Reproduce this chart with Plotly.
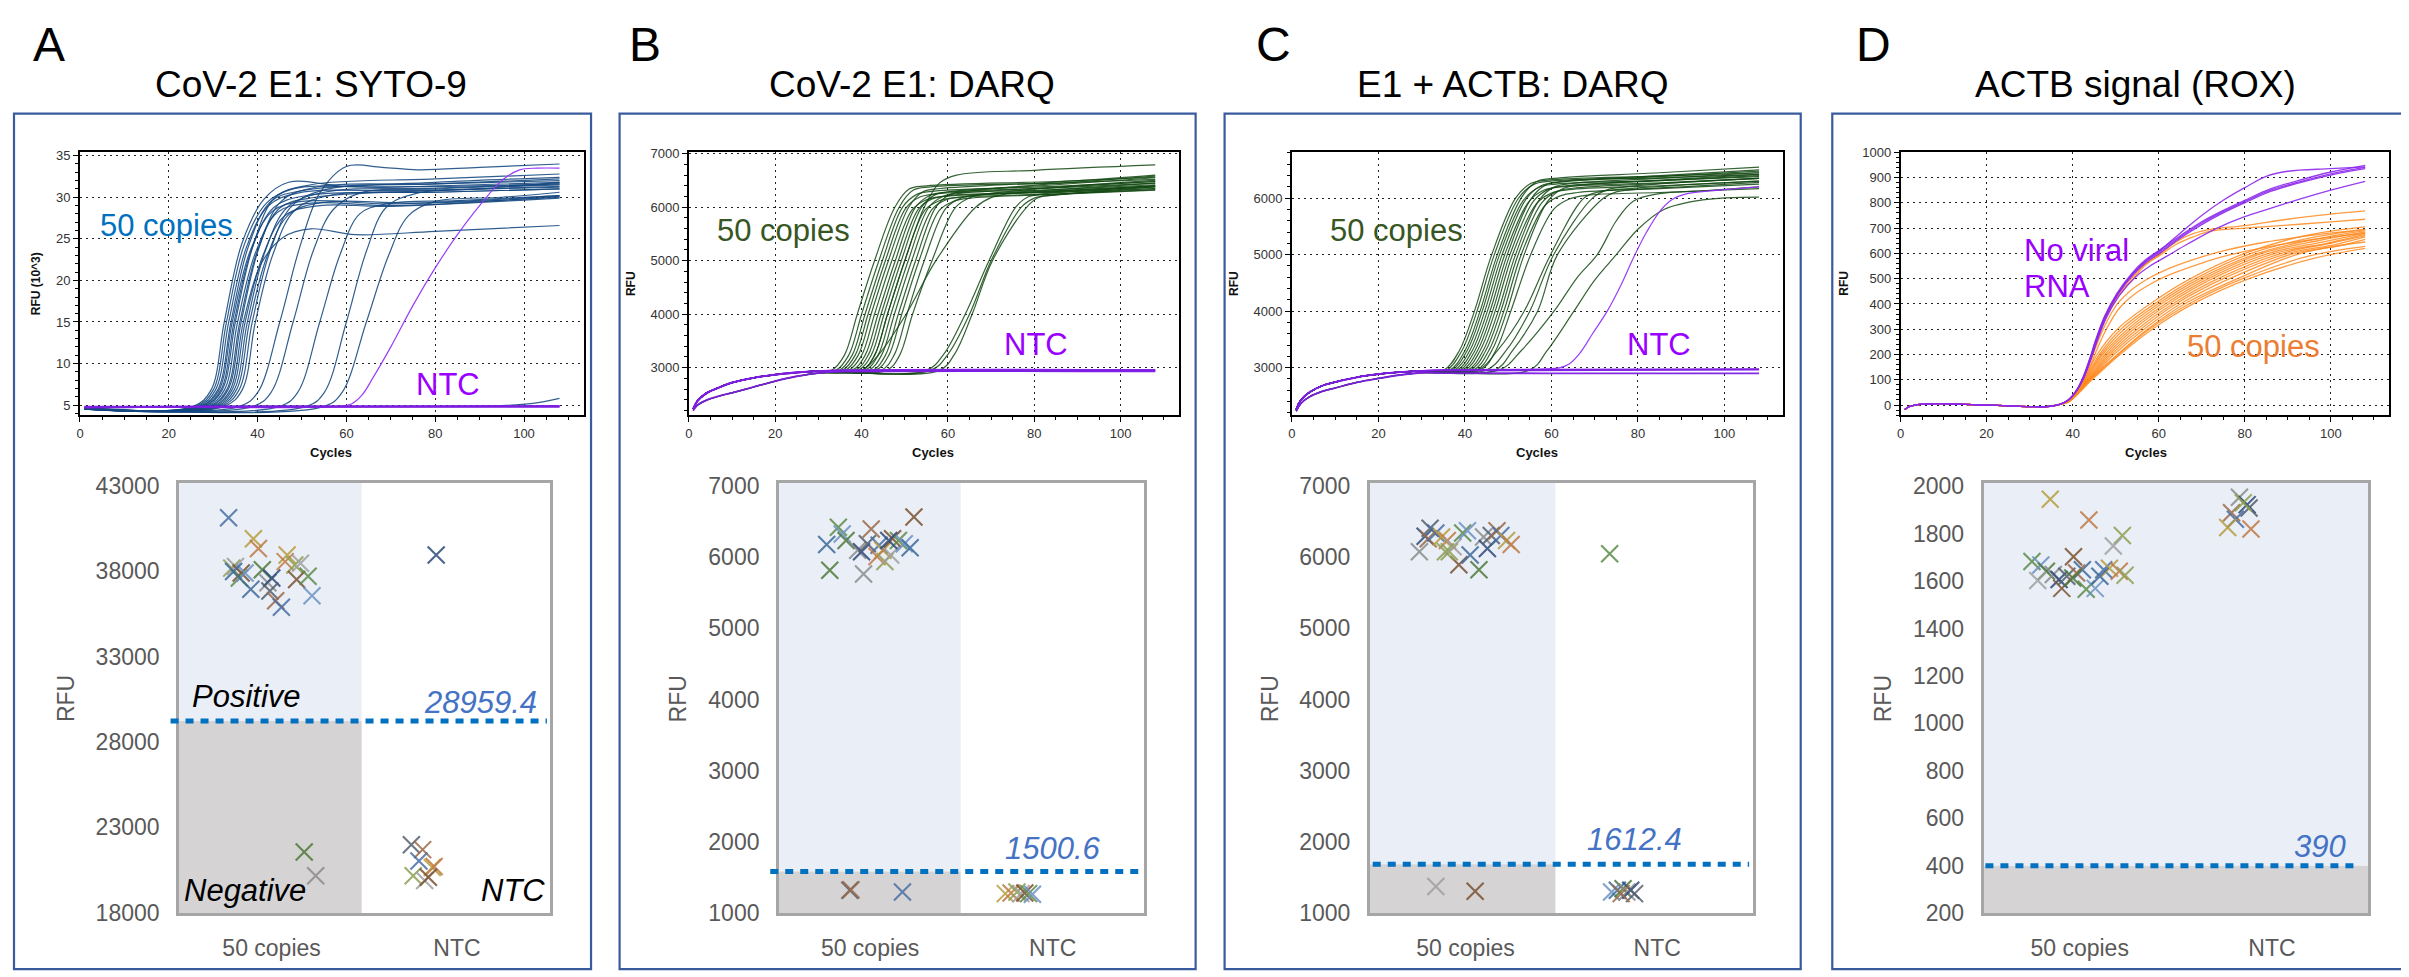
import plotly.graph_objects as go

W, H = 2409, 977
FONT = "Liberation Sans, Arial, Helvetica, sans-serif"

# ------------------------------------------------------------------ data
CYCLE_TICKS = [0, 20, 40, 60, 80, 100]
CATEGORIES = ["50 copies", "NTC"]
LETTERS = ["A", "B", "C", "D"]
TITLES = ["CoV-2 E1: SYTO-9", "CoV-2 E1: DARQ", "E1 + ACTB: DARQ", "ACTB signal (ROX)"]

# Panel A amplification curves (cycle, RFU x10^3), knots
A_POS = [
    [(1,4.55),(25.5,4.85),(29.5,6.8),(32.5,15),(36.5,24.5),(41.5,29.8),(47,31.8),(60,31.3),(80,31.3),(108,31.6)],
    [(1,4.55),(26,4.85),(30,6.8),(33,15),(37,24.3),(42,29.3),(48,31.0),(70,31.2),(108,31.8)],
    [(1,4.6),(26.5,4.85),(30.5,6.8),(33.5,15),(37.5,24),(42.5,29),(49,30.5),(75,30.8),(108,31.2)],
    [(1,4.6),(27,4.85),(31,6.8),(34,15),(38,24.2),(43,29.5),(50,30.8),(80,31.8),(108,32.4)],
    [(1,4.5),(27.3,4.85),(31.3,6.8),(34.3,15),(38.3,23.5),(43.3,28.3),(50,29.5),(70,29.2),(108,30.0)],
    [(1,4.6),(27.7,4.85),(31.7,6.8),(34.7,15),(38.7,23.8),(43.7,28.8),(51,30.2),(80,30.6),(108,31.0)],
    [(1,4.55),(28,4.85),(32,6.8),(35,15),(39,24.2),(44,30),(52,31.5),(80,32.2),(108,32.8)],
    [(1,4.5),(28.5,4.85),(32.5,6.8),(35.5,15),(39.5,23.3),(44.5,28.2),(52,29.3),(70,29.0),(108,29.9)],
    [(1,4.6),(29,4.85),(33,6.8),(36,15),(40,23.6),(45,28.7),(53,30.0),(80,30.8),(108,31.3)],
    [(1,4.6),(29.3,4.85),(33.3,6.8),(36.3,15),(40.3,23.9),(45.3,29.5),(53,31.2),(80,31.6),(108,32.0)],
    [(1,4.55),(29.8,4.85),(33.8,6.8),(36.8,15),(40.8,22.0),(45.8,25.2),(52,26.2),(62,25.5),(80,25.9),(108,26.6)],
    [(1,4.5),(30.2,4.85),(34.2,6.8),(37.2,15),(41.2,23),(46.2,27.8),(54,29.0),(70,28.9),(108,30.1)],
    [(1,4.6),(30.7,4.85),(34.7,6.8),(37.7,15),(41.7,23.5),(46.7,28.8),(55,30.6),(80,31.1),(108,31.6)],
    [(1,4.5),(31.2,4.85),(35.2,6.8),(38.2,15),(42.2,23),(47.2,28),(55,29.4),(75,29.3),(108,30.2)],
    [(1,4.6),(31.8,4.85),(35.8,6.8),(38.8,15),(42.8,23.5),(47.8,29),(56,31.0),(80,31.6),(108,32.2)],
    [(1,4.6),(32.5,4.85),(36.5,6.8),(39.5,15),(43.5,23.2),(48.5,28.5),(57,30.3),(80,30.6),(108,31.0)],
    [(1,4.6),(36,4.85),(40,6.5),(45,15),(49.5,24),(54,30.5),(60,33.7),(68,33.6),(76,33.3),(90,33.6),(108,34.0)],
    [(1,4.6),(39,4.85),(43,6.5),(48,15),(52.5,23.5),(57,28.5),(63,30.5),(80,31),(108,31.5)],
    [(1,4.6),(45,4.85),(49,6.5),(54,15),(58.5,23),(63,28),(69,29.2),(85,29.6),(108,30.2)],
    [(1,4.6),(51,4.85),(55,6.5),(60,15),(64.5,23.5),(69,28.8),(76,30.5),(90,31),(108,31.8)],
    [(1,4.6),(55,4.85),(59,6.5),(64.5,15),(69.5,23),(74,27.8),(80,29.5),(95,30),(108,30.6)],
    [(1,4.6),(30,4.85),(95,4.95),(102,5.2),(108,5.8)],
]
A_NTC = [
    [(1,4.8),(58,4.85),(61,5.1),(63.5,6.2),(66,8.3),(70,12),(75,17),(80,21.5),(85,25.5),(90,29),(95,32),(99,33.3),(103,33.5),(108,33.5)],
    [(1,4.7),(20,4.8),(108,4.85)],
    [(1,4.75),(108,4.9)],
    [(1,4.8),(108,4.8)],
]

# Panel B (cycle, RFU)
B_BASE_HI = [(1,2230),(2,2380),(4,2520),(7,2630),(10,2720),(15,2810),(20,2870),(25,2910),(30,2935)]
B_BASE_LO = [(1,2200),(2,2300),(4,2390),(7,2470),(10,2530),(15,2640),(20,2750),(25,2840),(30,2900)]
B_POS = [
    [(33,2950),(36,3230),(39,4000),(43,5000),(47.7,6000),(51,6340),(55,6400),(85,6480),(108,6560)],
    [(34,2950),(37,3230),(40,4000),(44,5000),(48.7,6000),(52,6320),(56,6380),(85,6450),(108,6520)],
    [(34.8,2950),(37.8,3230),(40.8,4000),(44.8,5000),(49.5,6000),(52.8,6240),(56.8,6300),(85,6390),(108,6480)],
    [(35.5,2950),(38.5,3230),(41.5,4000),(45.5,5000),(50.2,5980),(53.5,6190),(57.5,6250),(85,6330),(108,6420)],
    [(36.2,2950),(39.2,3230),(42.2,4000),(46.2,5000),(50.9,6000),(54.2,6290),(58.2,6350),(85,6470),(108,6600)],
    [(37,2950),(40,3230),(43,4000),(47,5000),(51.7,5950),(55,6140),(59,6200),(85,6290),(108,6380)],
    [(37.8,2950),(40.8,3230),(43.8,4000),(47.8,5000),(52.5,6000),(55.8,6220),(59.8,6280),(85,6360),(108,6450)],
    [(38.5,2950),(41.5,3230),(44.5,4000),(48.5,5000),(53.2,5970),(56.5,6160),(60.5,6220),(85,6280),(108,6350)],
    [(39.2,2950),(42.2,3230),(45.2,4000),(49.2,5000),(53.9,6000),(57.2,6240),(61.2,6300),(85,6420),(108,6550)],
    [(40,2950),(43,3230),(46,4000),(50,5000),(54.7,5950),(58,6120),(62,6180),(85,6250),(108,6330)],
    [(40.8,2950),(43.8,3230),(46.8,4000),(50.8,5000),(55.5,5990),(58.8,6200),(62.8,6260),(85,6370),(108,6480)],
    [(41.6,2950),(44.6,3230),(47.6,4000),(51.6,5000),(56.3,5960),(59.6,6140),(63.6,6200),(85,6300),(108,6400)],
    [(42.5,2950),(45.5,3230),(48.5,4000),(52.5,5000),(57.2,6000),(60.5,6240),(64.5,6300),(85,6440),(108,6580)],
    [(43.3,2950),(46.3,3230),(49.3,4000),(53.3,5000),(58,5940),(61.3,6110),(65.3,6170),(85,6240),(108,6320)],
    [(44.5,2950),(47.5,3230),(50.5,4000),(54.5,5000),(59.5,5980),(63,6170),(67,6230),(85,6330),(108,6450)],
    [(45.8,2950),(48.8,3230),(51.8,4000),(56.3,5000),(61.8,6000),(65.7,6200),(69,6250),(85,6370),(108,6500)],
    [(40,2950),(43,3230),(46,4000),(50,5000),(54.5,6000),(58,6450),(62,6600),(80,6690),(108,6790)],
    [(40,2950),(44,3250),(50.3,4000),(57.2,5000),(66.4,6000),(70,6180),(74,6250),(90,6330),(108,6400)],
    [(55,2950),(59,3250),(64,4000),(69.5,5000),(75.7,6000),(78.5,6190),(82,6250),(95,6320),(108,6400)],
    [(56,2950),(60,3250),(65,4000),(70,5000),(77,6000),(80,6170),(84,6220),(95,6290),(108,6350)],
    [(58,2950),(61.5,3250),(65.6,4000),(70.3,5000),(78,5980),(81,6180),(85,6230),(95,6300),(108,6380)],
]
B_POS_LOW_BASE = [5, 13, 17]
B_NTC = [
    [(36,2945),(108,2950)],
    [(36,2935),(108,2940)],
    [(36,2955),(108,2960)],
    [(36,2925),(108,2930)],
]

# Panel C (cycle, RFU)
C_BASE_HI = [(1,2260),(2,2420),(4,2560),(7,2680),(10,2745),(15,2830),(20,2885),(25,2920),(30,2945)]
C_BASE_LO = [(1,2230),(2,2360),(4,2480),(7,2580),(10,2640),(15,2740),(20,2810),(25,2870),(30,2910)]
C_POS = [
    [(35.2,2960),(38.7,3300),(42.2,4000),(46.2,5000),(51.7,6000),(55.2,6260),(59.2,6320),(85,6390),(108,6450)],
    [(35.8,2960),(39.3,3300),(42.8,4000),(46.8,5000),(52.3,5990),(55.8,6240),(59.8,6300),(85,6360),(108,6420)],
    [(36.5,2960),(40,3300),(43.5,4000),(47.5,5000),(53,6000),(56.5,6290),(60.5,6350),(85,6450),(108,6550)],
    [(37,2960),(40.5,3300),(44,4000),(48,5000),(53.5,5960),(57,6190),(61,6250),(85,6310),(108,6380)],
    [(37.6,2960),(41.1,3300),(44.6,4000),(48.6,5000),(54.1,5980),(57.6,6220),(61.6,6280),(85,6380),(108,6480)],
    [(38.2,2960),(41.7,3300),(45.2,4000),(49.2,5000),(54.7,5930),(58.2,6140),(62.2,6200),(85,6270),(108,6350)],
    [(38.8,2960),(42.3,3300),(45.8,4000),(49.8,5000),(55.3,5990),(58.8,6240),(62.8,6300),(85,6400),(108,6500)],
    [(39.4,2960),(42.9,3300),(46.4,4000),(50.4,5000),(55.9,5950),(59.4,6160),(63.4,6220),(85,6310),(108,6400)],
    [(40,2960),(43.5,3300),(47,4000),(51,5000),(56.5,5900),(60,6090),(64,6150),(85,6220),(108,6300)],
    [(40.7,2960),(44.2,3300),(47.7,4000),(51.7,5000),(57.2,5970),(60.7,6200),(64.7,6260),(85,6350),(108,6450)],
    [(41.3,2960),(44.8,3300),(48.3,4000),(52.3,5000),(57.8,5920),(61.3,6120),(65.3,6180),(85,6260),(108,6350)],
    [(42,2960),(45.5,3300),(49,4000),(53,5000),(58.5,5870),(62,6040),(66,6100),(85,6170),(108,6250)],
    [(42.7,2960),(46.2,3300),(49.7,4000),(53.7,5000),(59.2,5950),(62.7,6170),(66.7,6230),(85,6320),(108,6420)],
    [(43.6,2960),(47.1,3300),(50.6,4000),(55.2,5000),(60.5,5800),(64,5980),(68,6050),(85,6100),(108,6170)],
    [(43,2960),(47.5,3300),(53.7,4000),(59.8,5000),(67.5,6000),(71,6110),(75,6150),(90,6230),(108,6300)],
    [(45,2960),(49.5,3300),(55,4000),(60.5,5000),(69.5,6000),(73,6150),(77,6200),(90,6280),(108,6350)],
    [(47,2960),(51,3300),(56.8,4000),(61.4,5000),(72,6000),(75,6110),(79,6150),(92,6210),(108,6280)],
    [(48,2960),(53,3300),(60.6,4000),(66,4600),(70.6,5000),(75,5600),(79,5950),(85,6080),(95,6130),(108,6200)],
    [(55,2960),(59,3300),(65.2,4000),(70,4550),(75,5000),(80,5450),(86,5800),(95,5970),(108,6020)],
]
C_POS_LOW_BASE = [3, 11, 16]
C_NTC = [
    [(58,2975),(62,3000),(64,3060),(66.5,3250),(69.5,3600),(72.9,4000),(76,4450),(79,4950),(82,5400),(85.2,5780),(88,5980),(91.4,6080),(100,6150),(108,6200)],
    [(36,2960),(108,2975)],
    [(36,2950),(108,2965)],
    [(36,2905),(70,2900),(108,2900)],
]
C_NTC_LOW_BASE = [3]

# Panel D (cycle, RFU)
D_BASE = [(1,-18),(2,-6),(4,2),(7,5),(11,5),(15,3),(20,0),(25,-3),(30,-6),(34,-6),(37,3)]
D_NOVIRAL = [
    [(39,20),(41,60),(42.5,110),(44,180),(45.5,260),(47.5,350),(50.4,440),(54,520),(57,570),(60.5,610),(65,665),(70,720),(75,765),(80,805),(86,850),(92,880),(100,915),(108,940)],
    [(39,19),(41,58),(42.6,110),(44.1,180),(45.7,260),(47.7,350),(50.6,440),(54.2,518),(57.2,566),(60.7,606),(65,660),(70,714),(75,760),(80,800),(86,845),(92,876),(100,910),(108,935)],
    [(39,21),(41,62),(42.4,110),(43.9,180),(45.4,260),(47.4,350),(50.3,442),(53.8,522),(56.8,573),(60.3,614),(65,670),(70,725),(75,770),(80,810),(86,855),(92,886),(100,922),(108,948)],
    [(39,20),(41,60),(42.5,110),(44,180),(45.5,260),(47.5,350),(50.4,440),(54,520),(57,570),(60.5,615),(65,680),(70,750),(75,810),(80,860),(85,905),(90,925),(100,935),(108,942)],
    [(39,20),(41,58),(42.6,108),(44.2,178),(45.8,258),(47.8,345),(50.8,432),(54.5,505),(58,550),(62,590),(67,640),(73.6,700),(80,745),(90,800),(100,850),(108,885)],
]
D_COPIES = [
    [(39,19),(41,58),(42.6,108),(44.1,178),(45.6,258),(47.6,345),(50.5,435),(54.2,512),(57,560),(60.5,600),(64,645),(68,678),(72,695),(80,710),(90,735),(100,755),(108,768)],
    [(39,19),(41,57),(42.6,107),(44.1,176),(45.7,255),(47.7,342),(50.6,430),(54.3,505),(57,555),(60.5,595),(64,635),(68,665),(72,688),(80,700),(90,712),(100,725),(108,735)],
    [(39,18),(41,55),(42.5,100),(44,165),(45.5,235),(47.5,315),(50.4,400),(54,460),(57,495),(61,530),(68,575),(75,610),(85,645),(95,670),(108,695)],
    [(39,17),(41,52),(42.6,96),(44.2,158),(45.8,226),(47.9,302),(50.8,382),(54.5,440),(58,478),(62,512),(69,556),(76,592),(86,628),(96,655),(108,680)],
    [(39,16),(42.6,100),(45.7,200),(50.4,300),(58,400),(67.4,500),(80,600),(94,670),(108,705)],
    [(39,16),(42.8,100),(46.2,200),(51.2,300),(59,400),(68.5,500),(81.5,600),(95,660),(108,695)],
    [(39,15),(43.0,100),(46.6,200),(52,300),(59.8,400),(69.5,500),(83,600),(96,655),(108,690)],
    [(39,15),(43.1,100),(47,200),(52.8,300),(60.6,400),(70.5,500),(84,600),(97,650),(108,685)],
    [(39,15),(43.3,100),(47.5,200),(53.5,300),(61.5,400),(71.5,500),(85.5,600),(98,645),(108,680)],
    [(39,14),(43.5,100),(48,200),(54.2,300),(62.3,400),(72.5,500),(87,600),(99,640),(108,675)],
    [(39,14),(43.6,100),(48.5,200),(55,300),(63.2,400),(73.8,500),(88.5,600),(100,640),(108,670)],
    [(39,13),(43.8,100),(49,200),(55.8,300),(64,400),(75,500),(90,600),(101,635),(108,665)],
    [(39,13),(43.9,100),(49.6,200),(56.6,300),(65,400),(76.5,500),(91.5,600),(102,630),(108,655)],
    [(39,12),(44,100),(50.4,200),(57.4,300),(66,400),(78.3,500),(93,600),(108,645)],
    [(39,12),(44.2,100),(50.6,200),(57.8,300),(67,400),(79.5,500),(95,590),(108,628)],
    [(39,11),(44.5,100),(51,200),(58.5,300),(68,400),(81,500),(96,580),(108,620)],
]

# End-point scatter: (horizontal jitter within the category, RFU)
A_COPIES = [(-0.232,41146),(-0.098,39904),(-0.071,39331),(-0.215,38187),(-0.195,38282),(-0.164,37900),
            (-0.174,37614),(-0.143,37900),(-0.112,36946),(-0.05,38091),(-0.02,37328),(0.001,37614),
            (-0.009,36851),(0.022,36278),(0.053,35897),(0.084,38950),(0.073,38568),(0.125,38377),
            (0.156,38473),(0.135,37519),(0.197,37710),(0.218,36565),(-0.205,37996),(0.176,21549),(0.238,20156)]
A_NTCPTS = [(-0.112,38950),(-0.246,21969),(-0.185,21683),(-0.205,21015),(-0.133,20633),(-0.123,20700),
            (-0.236,20156),(-0.174,19870),(-0.154,20061)]
B_COPIES = [(0.240,6565),(-0.174,6419),(-0.153,6327),(-0.238,6177),(-0.132,6236),(-0.068,6099),(-0.047,6076),
            (-0.015,6190),(0.006,6396),(0.049,6168),(0.070,6099),(0.038,6008),(0.081,5939),(0.113,6031),
            (0.123,6259),(0.155,6236),(0.187,6190),(0.219,6131),(-0.221,5815),(-0.036,5765),(0.102,6236),
            (-0.111,1320),(-0.105,1330),(0.177,1297)]
B_NTCPTS = [(-0.26,1274),(-0.228,1283),(-0.196,1297),(-0.174,1274),(-0.153,1283),(-0.132,1274),(-0.111,1265)]
C_COPIES = [(-0.241,6076),(-0.211,6295),(-0.185,6405),(-0.195,6259),(-0.155,6341),(-0.125,6282),(-0.095,6236),
            (-0.085,6076),(-0.065,6145),(-0.035,5893),(-0.015,6341),(0.010,6373),(0.024,6031),(0.070,5825),
            (0.094,6282),(0.114,6122),(0.134,6305),(0.164,6373),(0.184,6305),(0.214,6236),(0.238,6177),
            (-0.105,6076),(-0.155,1375),(0.05,1306)]
C_NTCPTS = [(-0.248,6049),(-0.238,1297),(-0.208,1320),(-0.178,1343),(-0.158,1297),(-0.138,1320),
            (-0.118,1274),(-0.188,1274)]
D_COPIES_PTS = [(-0.153,1945),(0.048,1857),(0.222,1792),(0.175,1748),(-0.032,1702),(-0.248,1682),(-0.202,1668),
                (0.014,1647),(-0.173,1641),(-0.137,1627),(-0.107,1606),(-0.067,1620),(-0.016,1634),(0.125,1647),
                (0.155,1654),(0.206,1641),(0.236,1624),(-0.218,1602),(-0.093,1569),(0.034,1565),(0.081,1569),
                (0.105,1620),(-0.036,1613)]
D_NTCPTS = [(-0.169,1953),(-0.129,1922),(-0.119,1908),(-0.210,1888),(-0.190,1860),(-0.230,1826),
            (-0.109,1819),(-0.149,1930)]

THRESH_LINE = [29220, 1585, 1686, 400]
THRESH_TEXT = ["28959.4", "1500.6", "1612.4", "390"]

TOP_YRANGE = [[3.76, 35.47], [2108, 7036], [2155, 6821], [-41, 1002]]
TOP_YTICKS = [[5, 10, 15, 20, 25, 30, 35], [3000, 4000, 5000, 6000, 7000],
              [3000, 4000, 5000, 6000], [0, 100, 200, 300, 400, 500, 600, 700, 800, 900, 1000]]
TOP_YMINOR = [1, 200, 200, 20]
TOP_YTITLE = ["RFU (10^3)", "RFU", "RFU", "RFU"]
BOT_YRANGE = [[17943, 43190], [996, 7045], [996, 7045], [199, 2014]]
BOT_YTICKS = [[18000, 23000, 28000, 33000, 38000, 43000],
              [1000, 2000, 3000, 4000, 5000, 6000, 7000],
              [1000, 2000, 3000, 4000, 5000, 6000, 7000],
              [200, 400, 600, 800, 1000, 1200, 1400, 1600, 1800, 2000]]

# ------------------------------------------------------------------ layout geometry (pixels)
TOP_X = [(68.1, 572.9), (678, 1168.9), (1282, 1773.8), (1891.7, 2380.8)]
TOP_Y = (137, 407)
BOT_X = [(167.2, 538.5), (768.1, 1133.9), (1360, 1743.9), (1974.8, 2360)]
BOT_Y = (476, 917)
BOXES = [(2, 580), (608.6, 1185.6), (1214.6, 1791.7), (1823.3, 2400)]
LETTER_X = [19, 615.6, 1244, 1844.7]
TITLE_X = [299.5, 901.5, 1503.8, 2127]
TOP_YLABEL_X = [23.7, 619.5, 1223.4, 1834.2]
CYCLES_X = [319.6, 923, 1527.6, 2137.9]
BOT_YLABEL_X = [53.6, 666.9, 1259.8, 1873.8]
SHADE_SPLIT = [0.486, 0.496, 0.469, 1.5]
THRESH_X = [(158.8, 535.8), (759.5, 1135), (1363, 1740), (1976.7, 2351.5)]


def px(x):
    return x / W


def py(y):
    return 1 - y / H


fig = go.Figure()


def ax(i):
    return ("x" if i == 1 else f"x{i}"), ("y" if i == 1 else f"y{i}")


def add_curve(knots, i, color, width=1.2):
    xa, ya = ax(i)
    fig.add_trace(go.Scatter(
        x=[k[0] for k in knots], y=[k[1] for k in knots], mode="lines",
        line=dict(color=color, width=width, shape="spline", smoothing=1.0),
        xaxis=xa, yaxis=ya, showlegend=False, hoverinfo="skip"))


BLUE = "rgba(20,72,128,0.88)"
GREEN = "rgba(18,72,18,0.85)"
NTC_PURPLE = "rgba(150,50,250,0.95)"
FLAT_PURPLE = "rgba(125,30,225,0.95)"
D_PURPLE = "rgba(140,40,235,0.90)"
D_ORANGE = "rgba(255,137,30,0.85)"

# Panel A
for c in A_POS:
    add_curve(c, 1, BLUE, 1.2)
add_curve(A_NTC[0], 1, NTC_PURPLE, 1.2)
for c in A_NTC[1:]:
    add_curve(c, 1, FLAT_PURPLE, 1.8)

# Panel B
for k, c in enumerate(B_POS):
    base = B_BASE_LO if k in B_POS_LOW_BASE else B_BASE_HI
    add_curve(base + c, 3, GREEN, 1.2)
for k, c in enumerate(B_NTC):
    base = B_BASE_LO if k == 3 else B_BASE_HI
    add_curve(base + c, 3, FLAT_PURPLE, 1.8)

# Panel C
for k, c in enumerate(C_POS):
    base = C_BASE_LO if k in C_POS_LOW_BASE else C_BASE_HI
    add_curve(base + c, 5, GREEN, 1.2)
for k, c in enumerate(C_NTC):
    base = C_BASE_LO if k in C_NTC_LOW_BASE else C_BASE_HI
    add_curve(base + c, 5, NTC_PURPLE if k == 0 else FLAT_PURPLE, 1.2 if k == 0 else 1.8)

# Panel D
for c in D_COPIES:
    add_curve(D_BASE + c, 7, D_ORANGE, 1.3)
for c in D_NOVIRAL:
    add_curve(D_BASE + c, 7, D_PURPLE, 1.3)

# End-point scatters
PAL = ["#4A6FA5", "#7A5232", "#8C8C8C", "#B89E3E", "#5E8C4A", "#2E4A7A", "#C07A45", "#6D93C4",
       "#55606E", "#8FA054", "#3E6A9A", "#9C6B4A", "#A0A0A0", "#4F7A3A"]
SCAT = [(A_COPIES, A_NTCPTS), (B_COPIES, B_NTCPTS), (C_COPIES, C_NTCPTS), (D_COPIES_PTS, D_NTCPTS)]
for p, (cop, ntc) in enumerate(SCAT):
    xs = [0 + j for j, v in cop] + [1 + j for j, v in ntc]
    ys = [v for j, v in cop] + [v for j, v in ntc]
    cols = [PAL[(n * 3 + p) % len(PAL)] for n in range(len(xs))]
    xa, ya = ax(2 * p + 2)
    fig.add_trace(go.Scatter(
        x=xs, y=ys, mode="markers", xaxis=xa, yaxis=ya, showlegend=False, hoverinfo="skip",
        marker=dict(symbol="x-thin", size=17, opacity=0.85, color=cols, line=dict(width=2.1, color=cols))))

layout = dict(
    width=W, height=H, margin=dict(l=0, r=0, t=0, b=0),
    paper_bgcolor="white", plot_bgcolor="white",
    font=dict(family=FONT, color="#000"),
    showlegend=False,
)
shapes = []
annotations = []

for p in range(4):
    ti, bi = 2 * p + 1, 2 * p + 2
    txa = "xaxis" if ti == 1 else f"xaxis{ti}"
    tya = "yaxis" if ti == 1 else f"yaxis{ti}"
    layout[txa] = dict(
        domain=[px(TOP_X[p][0]), px(TOP_X[p][1])], anchor=ax(ti)[1], range=[0, 113.5],
        tickvals=CYCLE_TICKS, ticks="outside", ticklen=5, tickwidth=1.2, tickcolor="#000",
        minor=dict(dtick=5, tick0=0, ticks="outside", ticklen=3, tickcolor="#000", showgrid=False),
        showgrid=True, gridcolor="#222", griddash="2px,4px", gridwidth=1.2,
        showline=True, linecolor="#000", linewidth=1.6, mirror=True, zeroline=False,
        tickfont=dict(size=13, color="#333", family=FONT))
    layout[tya] = dict(
        domain=[py(TOP_Y[1]), py(TOP_Y[0])], anchor=ax(ti)[0], range=TOP_YRANGE[p],
        tickvals=TOP_YTICKS[p], tickformat="d", ticks="outside", ticklen=5, tickwidth=1.2, tickcolor="#000",
        minor=dict(dtick=TOP_YMINOR[p], tick0=0, ticks="outside", ticklen=3, tickcolor="#000", showgrid=False),
        showgrid=True, gridcolor="#222", griddash="2px,4px", gridwidth=1.2,
        showline=True, linecolor="#000", linewidth=1.6, mirror=True, zeroline=False,
        tickfont=dict(size=13, color="#333", family=FONT))
    bxa, bya = f"xaxis{bi}", f"yaxis{bi}"
    layout[bxa] = dict(
        domain=[px(BOT_X[p][0]), px(BOT_X[p][1])], anchor=ax(bi)[1], range=[-0.5, 1.5],
        tickvals=[0, 1], ticktext=CATEGORIES, ticks="", showgrid=False, zeroline=False,
        showline=True, linecolor="#A6A6A6", linewidth=2.5, mirror=True, ticklabelstandoff=12,
        tickfont=dict(size=23, color="#595959", family=FONT))
    layout[bya] = dict(
        domain=[py(BOT_Y[1]), py(BOT_Y[0])], anchor=ax(bi)[0], range=BOT_YRANGE[p],
        tickvals=BOT_YTICKS[p], tickformat="d", ticks="", showgrid=False, zeroline=False,
        showline=True, linecolor="#A6A6A6", linewidth=2.5, mirror=True, ticklabelstandoff=12,
        tickfont=dict(size=23, color="#595959", family=FONT))

    # shading of the end-point chart
    xr, yr = ax(bi)
    shapes.append(dict(type="rect", xref=xr, yref=yr, x0=-0.5, x1=SHADE_SPLIT[p],
                       y0=THRESH_LINE[p], y1=BOT_YRANGE[p][1], fillcolor="#EAEFF7", line=dict(width=0), layer="below"))
    shapes.append(dict(type="rect", xref=xr, yref=yr, x0=-0.5, x1=SHADE_SPLIT[p],
                       y0=BOT_YRANGE[p][0], y1=THRESH_LINE[p], fillcolor="#D5D3D4", line=dict(width=0), layer="below"))
    shapes.append(dict(type="line", xref="paper", yref=yr, x0=px(THRESH_X[p][0]), x1=px(THRESH_X[p][1]),
                       y0=THRESH_LINE[p], y1=THRESH_LINE[p], line=dict(color="#0070C0", width=5, dash="8px,7px"),
                       layer="above"))
    # panel box
    shapes.append(dict(type="rect", xref="paper", yref="paper", x0=px(BOXES[p][0]), x1=px(BOXES[p][1]),
                       y0=py(974), y1=py(98), line=dict(color="#3A5A9E", width=2.2), layer="below"))

    annotations.append(dict(text=LETTERS[p], x=px(LETTER_X[p]), y=py(27.5), xref="paper", yref="paper",
                            xanchor="left", yanchor="middle", showarrow=False,
                            font=dict(size=48, color="#000", family=FONT)))
    annotations.append(dict(text=TITLES[p], x=px(TITLE_X[p]), y=py(68.5), xref="paper", yref="paper",
                            xanchor="center", yanchor="middle", showarrow=False,
                            font=dict(size=37, color="#000", family=FONT)))
    annotations.append(dict(text="<b>" + TOP_YTITLE[p] + "</b>", x=px(TOP_YLABEL_X[p]), y=py(272),
                            xref="paper", yref="paper", xanchor="center", yanchor="middle", textangle=-90,
                            showarrow=False, font=dict(size=12, color="#111", family=FONT)))
    annotations.append(dict(text="<b>Cycles</b>", x=px(CYCLES_X[p]), y=py(445), xref="paper", yref="paper",
                            xanchor="center", yanchor="middle", showarrow=False,
                            font=dict(size=13, color="#111", family=FONT)))
    annotations.append(dict(text="RFU", x=px(BOT_YLABEL_X[p]), y=py(697), xref="paper", yref="paper",
                            xanchor="center", yanchor="middle", textangle=-90, showarrow=False,
                            font=dict(size=23, color="#595959", family=FONT)))

# threshold labels
TH_POS = [(527.4, 701, "right"), (993, 851, "left"), (1575.5, 841, "left"), (2340, 848, "right")]
for p in range(4):
    x, y, anc = TH_POS[p]
    annotations.append(dict(text="<i>" + THRESH_TEXT[p] + "</i>", x=px(x), y=py(y), xref="paper", yref="paper",
                            xanchor=anc, yanchor="middle", showarrow=False,
                            font=dict(size=31, color="#4472C4", family=FONT)))

# in-chart labels
LABELS = [
    ("50 copies", 86, 213, "left", "#0070C0", False),
    ("NTC", 403, 375, "left", "#9900FF", False),
    ("50 copies", 704, 217.5, "left", "#375623", False),
    ("NTC", 992, 334, "left", "#9900FF", False),
    ("50 copies", 1318, 217.5, "left", "#375623", False),
    ("NTC", 1616, 334, "left", "#9900FF", False),
    ("No viral", 2013, 238.5, "left", "#9900FF", False),
    ("RNA", 2013, 275, "left", "#9900FF", False),
    ("50 copies", 2176.7, 336, "left", "#ED7D31", False),
    ("Positive", 178, 695, "left", "#000", True),
    ("Negative", 170, 894, "left", "#000", True),
    ("NTC", 536, 894, "right", "#000", True),
]
for t, x, y, anc, col, it in LABELS:
    annotations.append(dict(text=("<i>" + t + "</i>") if it else t, x=px(x), y=py(y), xref="paper", yref="paper",
                            xanchor=anc, yanchor="middle", showarrow=False,
                            font=dict(size=31, color=col, family=FONT)))

layout["shapes"] = shapes
layout["annotations"] = annotations
fig.update_layout(**layout)
fig.write_html("out.html")
